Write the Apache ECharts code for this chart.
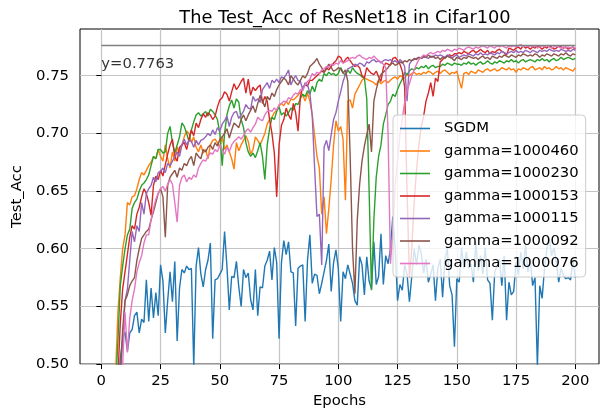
<!DOCTYPE html>
<html>
<head>
<meta charset="utf-8">
<script src="https://cdn.jsdelivr.net/npm/echarts@6/dist/echarts.min.js"></script>
<style>
html,body{margin:0;padding:0;background:#fff;}
#chart{width:601px;height:414px;}
</style>
</head>
<body>
<div id="chart"></div>
<script>
// test accuracy per epoch (epoch 1..200)
const sgdm = [
0.100,0.200,0.280,0.350,0.400,0.440,0.470,0.505,0.522,0.528,
0.511,0.527,0.530,0.542,0.545,0.527,0.539,0.536,0.573,0.537,
0.566,0.540,0.562,0.542,0.586,0.572,0.527,0.555,0.580,0.554,
0.589,0.520,0.566,0.582,0.579,0.585,0.582,0.583,0.498,0.585,
0.601,0.578,0.567,0.582,0.590,0.605,0.522,0.573,0.574,0.578,
0.582,0.615,0.585,0.547,0.576,0.575,0.589,0.567,0.550,0.582,
0.575,0.579,0.556,0.547,0.582,0.542,0.567,0.566,0.585,0.590,
0.598,0.573,0.601,0.588,0.522,0.588,0.607,0.595,0.606,0.580,
0.579,0.533,0.583,0.585,0.586,0.537,0.590,0.612,0.570,0.578,
0.577,0.561,0.570,0.580,0.590,0.604,0.563,0.588,0.599,0.583,
0.537,0.580,0.574,0.586,0.578,0.570,0.555,0.551,0.593,0.586,
0.560,0.593,0.572,0.565,0.606,0.569,0.576,0.613,0.569,0.594,
0.587,0.600,0.628,0.600,0.555,0.569,0.564,0.586,0.578,0.554,
0.576,0.600,0.586,0.603,0.596,0.579,0.591,0.571,0.578,0.586,
0.555,0.583,0.591,0.558,0.591,0.600,0.568,0.560,0.515,0.574,
0.571,0.601,0.583,0.597,0.583,0.587,0.571,0.606,0.581,0.594,
0.578,0.601,0.573,0.570,0.538,0.580,0.585,0.591,0.568,0.594,
0.538,0.571,0.560,0.563,0.589,0.577,0.597,0.583,0.603,0.580,
0.591,0.568,0.575,0.498,0.568,0.557,0.583,0.600,0.609,0.594,
0.601,0.588,0.571,0.583,0.577,0.574,0.575,0.573,0.590,0.575];

const g1000460 = [
0.100,0.200,0.300,0.380,0.440,0.490,0.545,0.575,0.600,0.612,
0.640,0.638,0.645,0.646,0.652,0.660,0.666,0.664,0.668,0.672,
0.675,0.680,0.678,0.686,0.680,0.676,0.690,0.678,0.670,0.684,
0.676,0.688,0.683,0.690,0.697,0.702,0.700,0.692,0.697,0.688,
0.684,0.690,0.683,0.686,0.678,0.690,0.694,0.695,0.692,0.688,
0.697,0.686,0.690,0.684,0.678,0.669,0.692,0.685,0.690,0.694,
0.698,0.693,0.682,0.686,0.697,0.694,0.690,0.695,0.700,0.708,
0.712,0.714,0.718,0.720,0.724,0.726,0.724,0.728,0.725,0.730,
0.729,0.731,0.733,0.736,0.733,0.728,0.735,0.728,0.716,0.698,
0.680,0.670,0.630,0.645,0.613,0.635,0.660,0.690,0.711,0.702,
0.706,0.695,0.642,0.728,0.729,0.722,0.734,0.738,0.742,0.746,
0.748,0.747,0.746,0.745,0.744,0.742,0.746,0.743,0.745,0.746,
0.744,0.746,0.748,0.749,0.747,0.750,0.749,0.748,0.751,0.750,
0.752,0.753,0.751,0.752,0.751,0.753,0.752,0.754,0.753,0.751,
0.753,0.754,0.752,0.754,0.755,0.753,0.751,0.753,0.752,0.754,
0.746,0.739,0.752,0.753,0.751,0.754,0.753,0.752,0.755,0.754,
0.753,0.755,0.756,0.754,0.755,0.756,0.754,0.755,0.757,0.756,
0.755,0.757,0.755,0.756,0.753,0.756,0.755,0.757,0.756,0.755,
0.757,0.758,0.755,0.756,0.757,0.755,0.758,0.756,0.757,0.755,
0.756,0.758,0.756,0.757,0.755,0.757,0.756,0.755,0.754,0.757];

const g1000230 = [
0.100,0.200,0.300,0.380,0.440,0.480,0.520,0.568,0.585,0.600,
0.612,0.617,0.635,0.640,0.643,0.650,0.655,0.657,0.660,0.664,
0.672,0.680,0.678,0.686,0.686,0.683,0.684,0.700,0.706,0.692,
0.683,0.690,0.697,0.709,0.706,0.700,0.693,0.703,0.710,0.716,
0.718,0.715,0.717,0.719,0.715,0.721,0.719,0.716,0.712,0.700,
0.672,0.700,0.716,0.724,0.729,0.722,0.730,0.727,0.712,0.705,
0.692,0.684,0.680,0.683,0.679,0.685,0.692,0.680,0.660,0.690,
0.704,0.714,0.712,0.719,0.723,0.716,0.718,0.715,0.718,0.722,
0.720,0.726,0.725,0.730,0.734,0.732,0.737,0.734,0.741,0.736,
0.744,0.747,0.745,0.752,0.750,0.753,0.751,0.752,0.750,0.752,
0.757,0.753,0.750,0.755,0.752,0.757,0.754,0.752,0.751,0.749,
0.748,0.730,0.650,0.564,0.625,0.662,0.680,0.690,0.708,0.716,
0.725,0.728,0.734,0.732,0.738,0.743,0.747,0.753,0.751,0.754,
0.756,0.755,0.757,0.756,0.758,0.757,0.759,0.756,0.758,0.759,
0.757,0.758,0.758,0.760,0.759,0.761,0.760,0.759,0.761,0.760,
0.760,0.759,0.761,0.760,0.762,0.760,0.761,0.759,0.761,0.762,
0.760,0.761,0.763,0.761,0.760,0.762,0.761,0.763,0.762,0.761,
0.763,0.762,0.764,0.762,0.763,0.761,0.763,0.764,0.762,0.763,
0.764,0.763,0.762,0.764,0.763,0.765,0.763,0.764,0.762,0.764,
0.765,0.763,0.764,0.766,0.764,0.765,0.766,0.765,0.764,0.765];

const g1000153 = [
0.100,0.180,0.260,0.340,0.400,0.450,0.490,0.535,0.565,0.580,
0.595,0.610,0.620,0.617,0.630,0.636,0.645,0.652,0.648,0.640,
0.629,0.655,0.663,0.660,0.668,0.663,0.673,0.682,0.690,0.695,
0.680,0.676,0.688,0.690,0.692,0.686,0.695,0.703,0.698,0.709,
0.705,0.712,0.717,0.714,0.718,0.716,0.712,0.715,0.723,0.729,
0.731,0.736,0.734,0.728,0.736,0.743,0.738,0.741,0.745,0.748,
0.735,0.747,0.733,0.740,0.737,0.740,0.742,0.726,0.732,0.728,
0.712,0.700,0.683,0.645,0.690,0.707,0.712,0.722,0.716,0.712,
0.726,0.718,0.702,0.732,0.740,0.742,0.741,0.746,0.746,0.748,
0.750,0.752,0.754,0.753,0.757,0.755,0.758,0.761,0.763,0.767,
0.766,0.761,0.764,0.766,0.763,0.760,0.758,0.759,0.757,0.750,
0.748,0.757,0.754,0.752,0.751,0.754,0.749,0.745,0.757,0.761,
0.760,0.759,0.765,0.766,0.763,0.760,0.754,0.740,0.650,0.575,
0.600,0.640,0.668,0.690,0.706,0.715,0.728,0.735,0.744,0.732,
0.748,0.745,0.762,0.764,0.766,0.767,0.768,0.767,0.769,0.769,
0.770,0.769,0.771,0.770,0.769,0.771,0.772,0.770,0.771,0.773,
0.771,0.770,0.772,0.769,0.771,0.770,0.772,0.773,0.771,0.770,
0.768,0.774,0.773,0.772,0.774,0.775,0.773,0.776,0.774,0.775,
0.773,0.775,0.774,0.776,0.775,0.773,0.775,0.774,0.776,0.775,
0.773,0.774,0.776,0.775,0.774,0.775,0.773,0.774,0.775,0.773];

const g1000115 = [
0.100,0.180,0.260,0.330,0.390,0.430,0.460,0.490,0.520,0.555,
0.565,0.590,0.615,0.606,0.620,0.615,0.640,0.630,0.648,0.652,
0.655,0.662,0.658,0.666,0.667,0.670,0.666,0.674,0.672,0.676,
0.680,0.684,0.680,0.690,0.695,0.690,0.694,0.693,0.688,0.694,
0.690,0.694,0.695,0.697,0.700,0.698,0.703,0.699,0.705,0.702,
0.708,0.711,0.715,0.706,0.714,0.718,0.719,0.713,0.716,0.719,
0.725,0.722,0.721,0.732,0.728,0.730,0.727,0.738,0.741,0.744,
0.739,0.746,0.744,0.747,0.744,0.749,0.748,0.751,0.755,0.742,
0.747,0.750,0.746,0.745,0.738,0.744,0.742,0.735,0.715,0.670,
0.628,0.630,0.586,0.688,0.694,0.685,0.699,0.712,0.718,0.728,
0.736,0.745,0.751,0.756,0.757,0.758,0.760,0.759,0.761,0.760,
0.758,0.762,0.761,0.763,0.764,0.762,0.763,0.761,0.763,0.764,
0.763,0.764,0.762,0.763,0.761,0.764,0.762,0.758,0.728,0.760,
0.763,0.764,0.765,0.766,0.765,0.766,0.766,0.765,0.767,0.766,
0.768,0.767,0.768,0.767,0.766,0.768,0.767,0.765,0.767,0.768,
0.766,0.767,0.768,0.767,0.769,0.768,0.767,0.769,0.768,0.770,
0.768,0.769,0.768,0.770,0.769,0.768,0.770,0.769,0.771,0.770,
0.769,0.770,0.771,0.770,0.772,0.770,0.771,0.770,0.772,0.771,
0.770,0.772,0.771,0.770,0.772,0.771,0.772,0.771,0.773,0.772,
0.771,0.772,0.771,0.773,0.772,0.771,0.772,0.771,0.773,0.772];

const g1000092 = [
0.100,0.180,0.250,0.320,0.380,0.430,0.460,0.490,0.530,0.555,
0.560,0.568,0.572,0.575,0.590,0.600,0.609,0.612,0.615,0.617,
0.625,0.632,0.640,0.648,0.652,0.645,0.610,0.655,0.662,0.665,
0.668,0.662,0.670,0.668,0.674,0.672,0.677,0.680,0.672,0.683,
0.680,0.678,0.686,0.684,0.688,0.690,0.686,0.692,0.689,0.695,
0.697,0.700,0.704,0.696,0.703,0.709,0.707,0.705,0.712,0.716,
0.711,0.716,0.720,0.724,0.718,0.726,0.733,0.728,0.723,0.732,
0.729,0.735,0.732,0.738,0.742,0.745,0.748,0.746,0.742,0.750,
0.747,0.744,0.742,0.746,0.750,0.748,0.752,0.758,0.760,0.762,
0.765,0.760,0.757,0.753,0.756,0.760,0.757,0.754,0.755,0.757,
0.756,0.752,0.755,0.745,0.680,0.600,0.561,0.625,0.656,0.676,
0.689,0.699,0.708,0.684,0.728,0.738,0.746,0.751,0.753,0.755,
0.757,0.760,0.761,0.759,0.760,0.762,0.761,0.763,0.762,0.764,
0.763,0.765,0.764,0.766,0.765,0.767,0.766,0.768,0.766,0.767,
0.765,0.766,0.764,0.766,0.765,0.767,0.766,0.765,0.763,0.766,
0.765,0.764,0.766,0.765,0.767,0.766,0.765,0.766,0.764,0.766,
0.767,0.765,0.766,0.764,0.767,0.766,0.765,0.767,0.766,0.768,
0.767,0.766,0.768,0.767,0.766,0.768,0.767,0.769,0.768,0.767,
0.768,0.767,0.769,0.768,0.766,0.768,0.767,0.769,0.768,0.767,
0.769,0.768,0.767,0.769,0.768,0.770,0.768,0.767,0.769,0.768];

const g1000076 = [
0.100,0.170,0.240,0.310,0.370,0.420,0.460,0.480,0.500,0.545,
0.510,0.540,0.555,0.565,0.580,0.588,0.594,0.605,0.612,0.612,
0.625,0.635,0.643,0.648,0.652,0.654,0.650,0.656,0.660,0.656,
0.640,0.623,0.655,0.662,0.664,0.658,0.662,0.660,0.664,0.662,
0.670,0.674,0.677,0.676,0.680,0.683,0.682,0.686,0.684,0.690,
0.686,0.682,0.688,0.684,0.690,0.693,0.695,0.697,0.695,0.698,
0.702,0.704,0.701,0.705,0.708,0.714,0.712,0.711,0.716,0.719,
0.720,0.719,0.722,0.720,0.725,0.726,0.728,0.727,0.731,0.730,
0.733,0.735,0.734,0.738,0.737,0.742,0.745,0.747,0.752,0.750,
0.753,0.752,0.755,0.756,0.758,0.757,0.760,0.759,0.761,0.760,
0.763,0.761,0.762,0.763,0.765,0.766,0.765,0.767,0.768,0.766,
0.765,0.764,0.766,0.765,0.767,0.765,0.763,0.762,0.760,0.757,
0.700,0.587,0.615,0.655,0.676,0.699,0.713,0.727,0.737,0.743,
0.750,0.755,0.760,0.764,0.766,0.768,0.767,0.769,0.770,0.769,
0.770,0.771,0.770,0.772,0.771,0.773,0.772,0.771,0.773,0.772,
0.774,0.773,0.772,0.774,0.775,0.774,0.773,0.775,0.774,0.775,
0.776,0.775,0.774,0.776,0.775,0.774,0.776,0.775,0.776,0.775,
0.774,0.776,0.775,0.776,0.775,0.776,0.777,0.775,0.776,0.775,
0.776,0.775,0.776,0.774,0.775,0.776,0.775,0.776,0.775,0.774,
0.775,0.776,0.775,0.774,0.775,0.774,0.775,0.774,0.775,0.774];

const seriesNames = ['SGDM','gamma=1000460','gamma=1000230','gamma=1000153','gamma=1000115','gamma=1000092','gamma=1000076'];
const seriesValues = [sgdm,g1000460,g1000230,g1000153,g1000115,g1000092,g1000076];
const colors = ['#1f77b4','#ff7f0e','#2ca02c','#d62728','#9467bd','#8c564b','#e377c2'];
const xTicks = [0,25,50,75,100,125,150,175,200];
const yTicks = [0.50,0.55,0.60,0.65,0.70,0.75];
const bestAcc = 0.7763;

const font = 'DejaVu Sans';
const chart = echarts.init(document.getElementById('chart'));

let series = seriesValues.map((vals,k)=>({
    name: seriesNames[k],
    type: 'line',
    symbol: 'none',
    clip: true,
    lineStyle: {width: 1.4, color: colors[k]},
    itemStyle: {color: colors[k]},
    data: vals.map((v,i)=>[i+1, v])
}));
// max line + its label
series.push({
    type: 'line', symbol: 'none', silent: true,
    lineStyle: {width: 1.5, color: '#808080'},
    data: [[0,bestAcc],[200,bestAcc]]
});
series.push({
    type: 'scatter', symbolSize: 0, silent: true,
    label: {show: true, position: 'right', distance: 0, formatter: 'y=' + bestAcc,
        fontFamily: font, fontSize: 14.8, color: '#000'},
    data: [[0, 0.7603]]
});

let option = {
    animation: false,
    backgroundColor: '#fff',
    title: {
        text: 'The Test_Acc of ResNet18 in Cifar100',
        left: 340, top: 4, textAlign: 'center',
        textStyle: {fontFamily: font, fontSize: 17.8, fontWeight: 'normal', color: '#000'}
    },
    grid: {left: 80, right: 2, top: 29, bottom: 48, show: true, borderColor: '#000', borderWidth: 1},
    legend: {
        data: seriesNames,
        orient: 'vertical', left: 393, top: 115,
        icon: 'rect',
        itemWidth: 30, itemHeight: 1.6, itemGap: 7.5,
        padding: [6, 7, 6, 7],
        backgroundColor: 'rgba(255,255,255,0.8)',
        borderColor: '#cccccc', borderWidth: 1, borderRadius: 4,
        textStyle: {fontFamily: font, fontSize: 14.8, color: '#000', lineHeight: 15, padding: [0,0,0,9]}
    },
    xAxis: {
        type: 'value', min: -9, max: 210,
        name: 'Epochs', nameLocation: 'middle', nameGap: 29,
        nameTextStyle: {fontFamily: font, fontSize: 14.8, color: '#000'},
        axisLine: {show: false},
        axisTick: {show: true, length: 5, customValues: xTicks, lineStyle: {color: '#000'}},
        axisLabel: {customValues: xTicks, margin: 10, fontFamily: font, fontSize: 14.8, color: '#000'},
        splitLine: {show: true, lineStyle: {color: '#c4c4c4', width: 1.2}}
    },
    yAxis: {
        type: 'value', min: 0.5, max: 0.7905,
        name: 'Test_Acc', nameLocation: 'middle', nameGap: 55,
        nameTextStyle: {fontFamily: font, fontSize: 14.8, color: '#000'},
        axisLine: {show: false},
        axisTick: {show: true, length: 5, customValues: yTicks, lineStyle: {color: '#000'}},
        axisLabel: {customValues: yTicks, margin: 11, fontFamily: font, fontSize: 14.8, color: '#000',
            formatter: v => v.toFixed(2)},
        splitLine: {show: true, lineStyle: {color: '#c4c4c4', width: 1.2}}
    },
    series: series
};
chart.setOption(option);
</script>
</body>
</html>
